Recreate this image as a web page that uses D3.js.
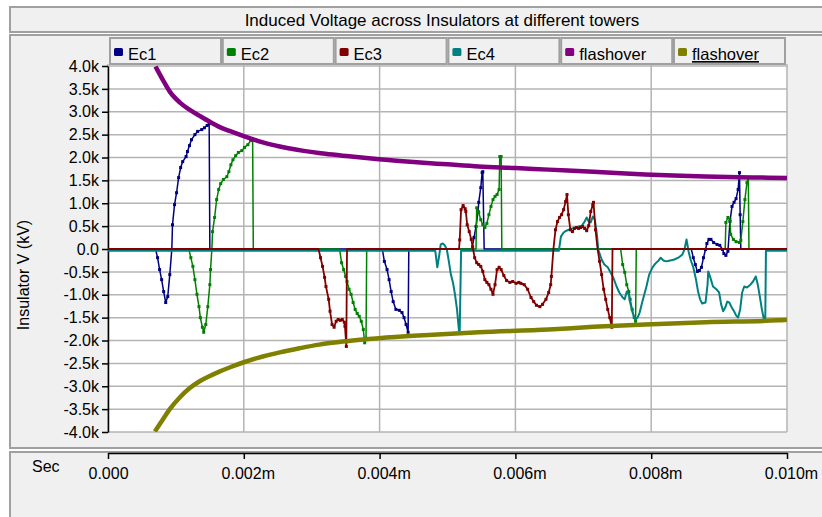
<!DOCTYPE html>
<html>
<head>
<meta charset="utf-8">
<script src="https://cdn.jsdelivr.net/npm/d3@7/dist/d3.min.js"></script>
<style>
body { margin: 0; background: #fff; font-family: Arial, "Liberation Sans", sans-serif; }
</style>
</head>
<body>
<div id="chart"></div>
<script>
// chart text
var title = "Induced Voltage across Insulators at different towers";
var yLabel = "Insulator V (kV)";
var xUnit = "Sec";

var seriesNames = ["Ec1", "Ec2", "Ec3", "Ec4", "flashover", "flashover"];
var seriesColors = ["#000080", "#008000", "#800000", "#008080", "#800080", "#808000"];

var xTicks = [0, 0.002, 0.004, 0.006, 0.008, 0.010];
var xTickLabels = ["0.000", "0.002m", "0.004m", "0.006m", "0.008m", "0.010m"];
var yTicks = [4000, 3500, 3000, 2500, 2000, 1500, 1000, 500, 0, -500, -1000, -1500, -2000, -2500, -3000, -3500, -4000];
var yTickLabels = ["4.0k", "3.5k", "3.0k", "2.5k", "2.0k", "1.5k", "1.0k", "0.5k", "0.0", "-0.5k", "-1.0k", "-1.5k", "-2.0k", "-2.5k", "-3.0k", "-3.5k", "-4.0k"];

// [time, volts]
var ec1 = [
  [0, 0], [0.00070, 0], [0.00073, -190], [0.00076, -450], [0.00079, -670], [0.00082, -930], [0.00085, -1170],
  [0.00088, -1040], [0.00091, -560], [0.00094, 0], [0.00095, 530], [0.00098, 970], [0.00101, 1230], [0.00104, 1560],
  [0.00107, 1780], [0.00110, 1910], [0.00115, 2020], [0.00117, 2130], [0.00120, 2260], [0.00123, 2390], [0.00128, 2500],
  [0.00132, 2570], [0.00138, 2610], [0.00142, 2650], [0.00146, 2700], [0.00149, 2740], [0.00150, 0],
  [0.00404, 0], [0.00407, -270], [0.00411, -450], [0.00414, -670], [0.00417, -930], [0.00420, -1150], [0.00424, -1320],
  [0.00429, -1340], [0.00433, -1390], [0.00436, -1500], [0.00439, -1650], [0.00442, -1820], [0.00443, 0],
  [0.00536, 0], [0.00539, 250], [0.00542, 490], [0.00545, 820], [0.00546, 1020], [0.00549, 1340], [0.00551, 1670],
  [0.00552, 1690], [0.00554, 0],
  [0.00859, 0], [0.00862, -190], [0.00865, -340], [0.00868, -490], [0.00871, -470], [0.00874, -400], [0.00877, -190],
  [0.00880, -10], [0.00882, 120], [0.00885, 210], [0.00888, 210], [0.00892, 140], [0.00897, 100], [0.00901, 80],
  [0.00905, -10], [0.00907, -100], [0.00910, -140], [0.00913, -50], [0.00916, 600], [0.00919, 930], [0.00922, 1020],
  [0.00925, 1100], [0.00928, 1300], [0.00930, 1670], [0.00931, 750], [0.00932, 0], [0.010, 0]
];

var ec2 = [
  [0, 0], [0.00119, 0], [0.00122, -190], [0.00125, -380], [0.00128, -670], [0.00131, -990], [0.00134, -1260],
  [0.00136, -1500], [0.00139, -1710], [0.00141, -1820], [0.00144, -1650], [0.00147, -1260], [0.00150, -780],
  [0.00151, -450], [0.00153, 0], [0.00154, 380], [0.00157, 690], [0.00160, 1080], [0.00163, 1300], [0.00166, 1430],
  [0.00170, 1520], [0.00175, 1580], [0.00178, 1690], [0.00181, 1840], [0.00184, 1950], [0.00188, 2040], [0.00192, 2110],
  [0.00197, 2150], [0.00201, 2220], [0.00206, 2280], [0.00210, 2370], [0.00213, 2400], [0.00214, 0],
  [0.00341, 0], [0.00344, -300], [0.00347, -450], [0.00350, -600], [0.00352, -710], [0.00355, -880], [0.00358, -990],
  [0.00361, -1170], [0.00364, -1320], [0.00367, -1410], [0.00370, -1470], [0.00373, -1580], [0.00376, -1760],
  [0.00378, -2050], [0.00380, -1950], [0.00381, 0],
  [0.00542, 0], [0.00543, 900], [0.00546, 800], [0.00549, 640], [0.00552, 530], [0.00555, 470], [0.00558, 560],
  [0.00561, 750], [0.00564, 930], [0.00567, 1080], [0.00570, 1150], [0.00573, 1190], [0.00576, 1300], [0.00577, 2020],
  [0.00579, 2020], [0.00580, 0],
  [0.00755, 0], [0.00758, -340], [0.00761, -510], [0.00764, -780], [0.00767, -930], [0.00769, -1100], [0.00772, -1320],
  [0.00775, -1500], [0.00777, -1580], [0.00778, 0],
  [0.00909, 0], [0.00910, 580], [0.00913, 690], [0.00916, 640], [0.00917, 320], [0.00921, 210], [0.00925, 160],
  [0.00930, 140], [0.00932, 190], [0.00935, 600], [0.00938, 1080], [0.00941, 1450], [0.00943, 1560], [0.00944, 0],
  [0.010, 0]
];

var ec3 = [
  [0, 0], [0.00310, 0], [0.00313, -190], [0.00316, -380], [0.00319, -620], [0.00321, -820], [0.00325, -1100],
  [0.00327, -1360], [0.00330, -1650], [0.00333, -1710], [0.00336, -1580], [0.00339, -1540], [0.00342, -1560],
  [0.00345, -1540], [0.00348, -1600], [0.00349, -1690], [0.00351, -2130], [0.00352, 0],
  [0.00517, 0], [0.00518, 200], [0.00520, 860], [0.00523, 950], [0.00526, 880], [0.00527, 820], [0.00529, 530],
  [0.00532, 380], [0.00535, 210], [0.00537, 50], [0.00540, -190], [0.00543, -300], [0.00546, -340], [0.00549, -380],
  [0.00552, -490], [0.00555, -670], [0.00558, -730], [0.00561, -780], [0.00564, -880], [0.00567, -990], [0.00570, -780],
  [0.00573, -450], [0.00576, -400], [0.00579, -450], [0.00583, -580], [0.00587, -690], [0.00592, -730], [0.00596, -710],
  [0.00601, -750], [0.00605, -730], [0.00608, -750], [0.00613, -780], [0.00618, -880], [0.00623, -1060], [0.00627, -1150],
  [0.00631, -1230], [0.00636, -1260], [0.00640, -1210], [0.00645, -1100], [0.00649, -950], [0.00652, -780],
  [0.00653, -600], [0.00656, 0], [0.00659, 420], [0.00662, 600], [0.00665, 690], [0.00668, 750], [0.00671, 860],
  [0.00674, 1040], [0.00676, 1190], [0.00678, 750], [0.00681, 420], [0.00684, 380], [0.00687, 450], [0.00690, 470],
  [0.00693, 450], [0.00696, 470], [0.00699, 490], [0.00702, 450], [0.00705, 400], [0.00708, 510], [0.00711, 820],
  [0.00714, 970], [0.00715, 1020], [0.00718, 420], [0.00721, 0], [0.00724, -270], [0.00727, -560], [0.00730, -880],
  [0.00733, -1100], [0.00736, -1320], [0.00739, -1500], [0.00742, -1710], [0.00743, 0], [0.010, 0]
];

var ec4 = [
  [0, -40], [0.00482, -40], [0.00485, -400], [0.00488, -120], [0.00490, 100], [0.00493, 120], [0.00496, 80],
  [0.00499, -10], [0.00502, -270], [0.00505, -560], [0.00508, -730], [0.00511, -990], [0.00514, -1320], [0.00517, -1800],
  [0.00518, -1800], [0.00520, -40],
  [0.00664, -40], [0.00667, 270], [0.00671, 360], [0.00675, 400], [0.00680, 430], [0.00684, 450], [0.00689, 470],
  [0.00693, 490], [0.00698, 510], [0.00702, 600], [0.00705, 690], [0.00708, 600], [0.00711, 580], [0.00714, 710],
  [0.00717, 640], [0.00720, 320], [0.00722, -10], [0.00727, -230], [0.00731, -340], [0.00736, -400], [0.00740, -510],
  [0.00744, -620], [0.00749, -820], [0.00753, -950], [0.00758, -1060], [0.00761, -1100], [0.00764, -930],
  [0.00767, -990], [0.00769, -1170], [0.00772, -1360], [0.00775, -1500], [0.00777, -1540], [0.00780, -1500],
  [0.00783, -1390], [0.00786, -1210], [0.00789, -1040], [0.00793, -820], [0.00797, -560], [0.00802, -400],
  [0.00806, -320], [0.00811, -250], [0.00814, -190], [0.00818, -250], [0.00822, -270], [0.00828, -250],
  [0.00834, -230], [0.00840, -190], [0.00846, -120], [0.00849, -10], [0.00852, 210], [0.00855, -50], [0.00858, -230],
  [0.00862, -400], [0.00866, -670], [0.00869, -930], [0.00872, -1100], [0.00875, -1190], [0.00880, -1170],
  [0.00883, -780], [0.00884, -490], [0.00887, -620], [0.00891, -820], [0.00896, -880], [0.00900, -950],
  [0.00903, -1210], [0.00906, -1360], [0.00909, -1280], [0.00912, -1150], [0.00915, -1170], [0.00918, -1260],
  [0.00922, -1360], [0.00925, -1450], [0.00928, -1500], [0.00931, -1320], [0.00934, -950], [0.00937, -820],
  [0.00941, -840], [0.00946, -780], [0.00950, -710], [0.00954, -600], [0.00957, -780], [0.00960, -1040],
  [0.00963, -1320], [0.00966, -1540], [0.00968, -1540], [0.00969, -40], [0.010, -40]
];

var flashUpper = [
  [0.00070, 3990], [0.00081, 3690], [0.00091, 3440], [0.00106, 3200], [0.00120, 3045], [0.00135, 2910],
  [0.00150, 2780], [0.00164, 2670], [0.00179, 2580], [0.00201, 2460], [0.00228, 2330], [0.00253, 2240],
  [0.00286, 2150], [0.00320, 2080], [0.00355, 2025], [0.00399, 1960], [0.00450, 1900], [0.00500, 1850],
  [0.00546, 1805], [0.00600, 1770], [0.00649, 1735], [0.00715, 1690], [0.00791, 1630], [0.00880, 1585],
  [0.00950, 1565], [0.010, 1550]
];

var flashLower = [
  [0.00069, -3990], [0.00081, -3720], [0.00091, -3500], [0.00106, -3240], [0.00120, -3045], [0.00135, -2890],
  [0.00150, -2775], [0.00164, -2680], [0.00179, -2590], [0.00201, -2470], [0.00228, -2350], [0.00253, -2260],
  [0.00282, -2170], [0.00311, -2090], [0.00351, -2015], [0.00399, -1950], [0.00458, -1890], [0.00546, -1820],
  [0.00649, -1760], [0.00715, -1700], [0.00791, -1650], [0.00880, -1600], [0.00987, -1560], [0.010, -1545]
];

var width = 822, height = 517;

var svg = d3.select("#chart")
  .append("svg")
  .attr("width", width)
  .attr("height", height)
  .style("display", "block");

var x = d3.scaleLinear().domain([0, 0.010]).range([108, 787]);
var y = d3.scaleLinear().domain([-4000, 4000]).range([432, 66]);

// panels
function panel(px, py, pw, ph) {
  svg.append("rect")
    .attr("x", px).attr("y", py)
    .attr("width", pw).attr("height", ph)
    .attr("fill", "#f0f0f0")
    .attr("stroke", "#a0a0a0")
    .attr("stroke-width", 2);
}
panel(10, 7, 820, 25);
panel(10, 35, 820, 413);
panel(10, 452, 820, 80);

svg.append("text")
  .attr("x", 442).attr("y", 26)
  .attr("text-anchor", "middle")
  .attr("font-size", "17px")
  .attr("fill", "#000")
  .text(title);

// plot background
svg.append("rect")
  .attr("x", x(0)).attr("y", 64)
  .attr("width", x(0.010) - x(0)).attr("height", y(-4000) - 64)
  .attr("fill", "#fff");

// grid
svg.append("g").selectAll("line")
  .data(yTicks)
  .enter().append("line")
  .attr("x1", x(0)).attr("x2", x(0.010))
  .attr("y1", function(d) { return y(d); })
  .attr("y2", function(d) { return y(d); })
  .attr("stroke", "#b4b4b4")
  .attr("stroke-width", 1.5);

svg.append("g").selectAll("line")
  .data(xTicks)
  .enter().append("line")
  .attr("x1", function(d) { return x(d); })
  .attr("x2", function(d) { return x(d); })
  .attr("y1", 64).attr("y2", y(-4000))
  .attr("stroke", "#b4b4b4")
  .attr("stroke-width", 1.5);

// axes
var yAxis = svg.append("g")
  .attr("transform", "translate(" + x(0) + ",0)")
  .call(d3.axisLeft(y)
    .tickValues(yTicks)
    .tickFormat(function(d, i) { return yTickLabels[i]; })
    .tickSize(6)
    .tickSizeOuter(0)
    .tickPadding(3));

var xAxis = svg.append("g")
  .attr("transform", "translate(0,453)")
  .call(d3.axisBottom(x)
    .tickValues(xTicks)
    .tickFormat(function(d, i) { return xTickLabels[i]; })
    .tickSize(6)
    .tickSizeOuter(0)
    .tickPadding(9));

[yAxis, xAxis].forEach(function(ax) {
  ax.selectAll("text")
    .attr("font-size", "16px")
    .attr("font-family", "Arial, 'Liberation Sans', sans-serif")
    .attr("fill", "#000");
  ax.selectAll("line").attr("stroke", "#000").attr("stroke-width", 1.5);
  ax.select(".domain").attr("stroke", "#000").attr("stroke-width", 1.5);
});
xAxis.selectAll("text").attr("dx", function(d, i) { return i === 0 ? 0 : 4; });

svg.append("text")
  .attr("x", 32).attr("y", 472)
  .attr("font-size", "16px")
  .text(xUnit);

svg.append("text")
  .attr("transform", "translate(29,275) rotate(-90)")
  .attr("text-anchor", "middle")
  .attr("font-size", "16px")
  .text(yLabel);

// series
svg.append("clipPath").attr("id", "plotclip")
  .append("rect")
  .attr("x", x(0)).attr("y", y(4000) - 2)
  .attr("width", x(0.010) - x(0)).attr("height", y(-4000) - y(4000) + 2);

var plot = svg.append("g").attr("clip-path", "url(#plotclip)");

var line = d3.line()
  .x(function(d) { return x(d[0]); })
  .y(function(d) { return y(d[1]); });

var smoothLine = d3.line()
  .curve(d3.curveMonotoneX)
  .x(function(d) { return x(d[0]); })
  .y(function(d) { return y(d[1]); });

var drawList = [
  { data: ec1, color: seriesColors[0], w: 1.5, marks: true, gen: line },
  { data: ec2, color: seriesColors[1], w: 1.5, marks: true, gen: line },
  { data: ec4, color: seriesColors[3], w: 2, marks: false, gen: line },
  { data: ec3, color: seriesColors[2], w: 1.8, marks: true, gen: line },
  { data: flashUpper, color: seriesColors[4], w: 4.5, marks: false, gen: smoothLine },
  { data: flashLower, color: seriesColors[5], w: 4.5, marks: false, gen: smoothLine }
];

drawList.forEach(function(s) {
  plot.append("path")
    .datum(s.data)
    .attr("fill", "none")
    .attr("stroke", s.color)
    .attr("stroke-width", s.w)
    .attr("stroke-linejoin", "round")
    .attr("d", s.gen);
  if (s.marks) {
    plot.append("g").selectAll("rect")
      .data(s.data.filter(function(d) { return d[1] !== 0; }))
      .enter().append("rect")
      .attr("x", function(d) { return x(d[0]) - 1.5; })
      .attr("y", function(d) { return y(d[1]) - 1.5; })
      .attr("width", 3).attr("height", 3)
      .attr("fill", s.color);
  }
});

// legend
var legend = svg.append("g").selectAll("g")
  .data(seriesNames)
  .enter().append("g")
  .attr("transform", function(d, i) { return "translate(" + (110 + i * 112.8) + ",38)"; });

legend.append("rect")
  .attr("width", 111).attr("height", 26)
  .attr("fill", "#f0f0f0")
  .attr("stroke", "#a0a0a0")
  .attr("stroke-width", 2);

legend.append("rect")
  .attr("x", 4).attr("y", 10)
  .attr("width", 9).attr("height", 8)
  .attr("rx", 1.5)
  .attr("fill", function(d, i) { return seriesColors[i]; });

legend.append("text")
  .attr("x", 18).attr("y", 22)
  .attr("font-size", "16.5px")
  .attr("fill", "#000")
  .style("text-decoration", function(d, i) { return i === 5 ? "underline" : "none"; })
  .text(function(d) { return d; });
</script>
</body>
</html>
